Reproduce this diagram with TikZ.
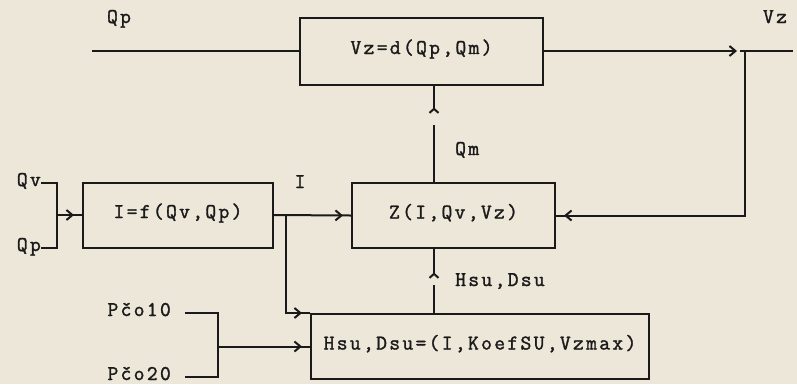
\documentclass[tikz,border=0pt]{standalone}
\usepackage{fontspec}
\usetikzlibrary{arrows.meta,decorations.markings}
\definecolor{paper}{HTML}{EDE7D9}
\definecolor{ink}{HTML}{1A1A1A}
\newfontfamily\twfam{lmmono12-regular.otf}[LetterSpace=11,FakeBold=1.5]
\newcommand\twfont{\twfam\fontsize{21}{25}\selectfont}
\tikzset{
  blk/.style={draw=ink, line width=2pt, rectangle, inner sep=0pt, font=\twfont, text=ink, text height=0.6em, text depth=0pt},
  lbl/.style={inner sep=0pt, font=\twfont, text=ink, text height=0.6em, text depth=0pt},
  wire/.style={draw=ink, line width=2pt},
  chevend/.style={wire, postaction={decorate, decoration={markings, mark=at position -8pt with {\arrow[ink,line width=2pt]{Straight Barb[length=6pt,width=10pt]}}}}},
  caret/.style={wire, postaction={decorate, decoration={markings, mark=at position 0.5pt with {\arrow[ink,line width=2pt]{Straight Barb[length=4pt,width=9pt]}}}}},
}
\begin{document}
\begin{tikzpicture}[x=1pt,y=-1pt]
\useasboundingbox (0,0) rectangle (797,384);
\clip (0,0) rectangle (797,384);
\fill[paper] (0,0) rectangle (797,384);

% blocks
\node[blk, minimum width=243pt, minimum height=67pt] (T) at (421.5,51) {Vz=d(Qp,Qm)};
\node[blk, minimum width=190pt, minimum height=65pt] (I) at (178,215) {I=f(Qv,Qp)};
\node[blk, minimum width=203pt, minimum height=65pt] (Z) at (453.5,215.5) {Z(I,Qv,Vz)};
\node[blk, minimum width=338pt, minimum height=65pt] (H) at (480,346.5) {Hsu,Dsu=(I,KoefSU,Vzmax)};

% labels
\node[lbl] (qptop) at (119,20) {Qp};
\node[lbl] (vzl) at (775,20) {Vz};
\node[lbl, anchor=west] (qml) at (455,152) {Qm};
\node[lbl] (il) at (300,185) {I};
\node[lbl, anchor=west] (hsul) at (455,283) {Hsu,Dsu};
\node[lbl, anchor=east] (qv) at (41,183) {Qv};
\node[lbl, anchor=east] (qp2) at (41,248) {Qp};
\node[lbl, anchor=east] (p10) at (171,313) {Pčo10};
\node[lbl, anchor=east] (p20) at (171,377) {Pčo20};

% coordinates
\coordinate (qpin) at (92,51);
\coordinate (vzarr) at (737,51);
\coordinate (vzs) at (740,51);
\coordinate (vzo) at (793,51);
\coordinate (fb) at (745,51);
\coordinate (qmgap) at (434,125);
\coordinate (qmtip) at (434,108);
\coordinate (hgap) at (434,285);
\coordinate (htip) at (434,273);
\coordinate (ibr) at (286,215);
\coordinate (qj) at (57,215);
\coordinate (p10s) at (185,313);
\coordinate (p20s) at (185,377);
\coordinate (pj) at (218,346.5);

% connectors
\draw[wire] (qpin) -- (T.west);
\draw[wire, -{Straight Barb[length=6pt,width=10pt]}] (T.east) -- (vzarr);
\draw[wire] (vzs) -- (vzo);
\draw[chevend] (fb) |- (Z.east);

\draw[wire] (qmgap |- Z.north) -- (qmgap);
\draw[caret] (qmtip) -- (qmtip |- T.south);

\draw[wire] (hgap |- H.north) -- (hgap);
\draw[caret] (htip) -- (htip |- Z.south);

\draw[chevend] (I.east) -- (Z.west);
\draw[chevend] (ibr) |- (H.north west);

\draw[wire] (qv.east) -| (qj) |- (qp2.east);
\draw[chevend] (qj) -- (I.west);

\draw[wire] (p10s) -| (pj) |- (p20s);
\draw[chevend] (pj) -- (H.west);
\end{tikzpicture}
\end{document}
